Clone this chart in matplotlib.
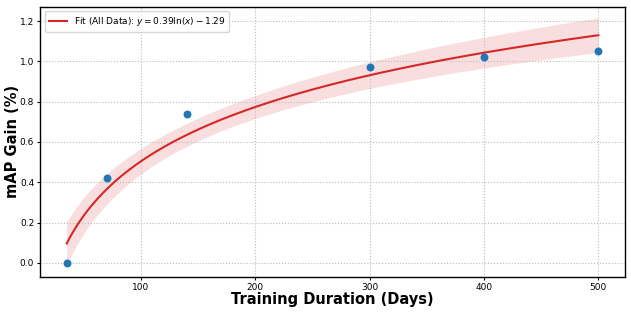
import matplotlib
matplotlib.use("Agg")
import matplotlib.pyplot as plt
import numpy as np

# Training duration (days) vs mAP gain (%)
days = np.array([35, 70, 140, 300, 400, 500])
gain = np.array([0.0, 0.42, 0.74, 0.97, 1.02, 1.05])

# log fit y = a*ln(x) + b
lx = np.log(days)
a, b = np.polyfit(lx, gain, 1)
resid = gain - (a*lx + b)
s = np.sqrt(np.sum(resid**2) / (len(days) - 2))
sxx = np.sum((lx - lx.mean())**2)

x_fit = np.linspace(days.min(), days.max(), 300)
y_fit = a*np.log(x_fit) + b
se = s*np.sqrt(1/len(days) + (np.log(x_fit) - lx.mean())**2/sxx)
band = 1.55*se

fig, ax = plt.subplots(figsize=(6.31, 3.14), dpi=100)
ax.fill_between(x_fit, y_fit - band, y_fit + band, color='#d62728', alpha=0.15, linewidth=0)
ax.plot(x_fit, y_fit, color='#d62728', linewidth=1.5,
        label=r'Fit (All Data): $y = 0.39\ln(x) - 1.29$')
ax.scatter(days, gain, color='#1f77b4', s=22, zorder=3)

ax.set_xlim(12, 523)
ax.set_ylim(-0.07, 1.27)
ax.set_xticks([100, 200, 300, 400, 500])
ax.set_yticks([0.0, 0.2, 0.4, 0.6, 0.8, 1.0, 1.2])
ax.tick_params(labelsize=6.5, length=2, pad=2.5)
ax.grid(True, linestyle=':', color='#bbbbbb', linewidth=0.8)
ax.set_xlabel('Training Duration (Days)', fontsize=10.5, fontweight='bold', labelpad=0)
ax.set_ylabel('mAP Gain (%)', fontsize=10.5, fontweight='bold', labelpad=0)
ax.legend(loc='upper left', fontsize=6.5)
for sp in ax.spines.values():
    sp.set_linewidth(1.0)

plt.subplots_adjust(left=0.064, right=0.99, top=0.978, bottom=0.118)
plt.savefig('out.png', dpi=100)
